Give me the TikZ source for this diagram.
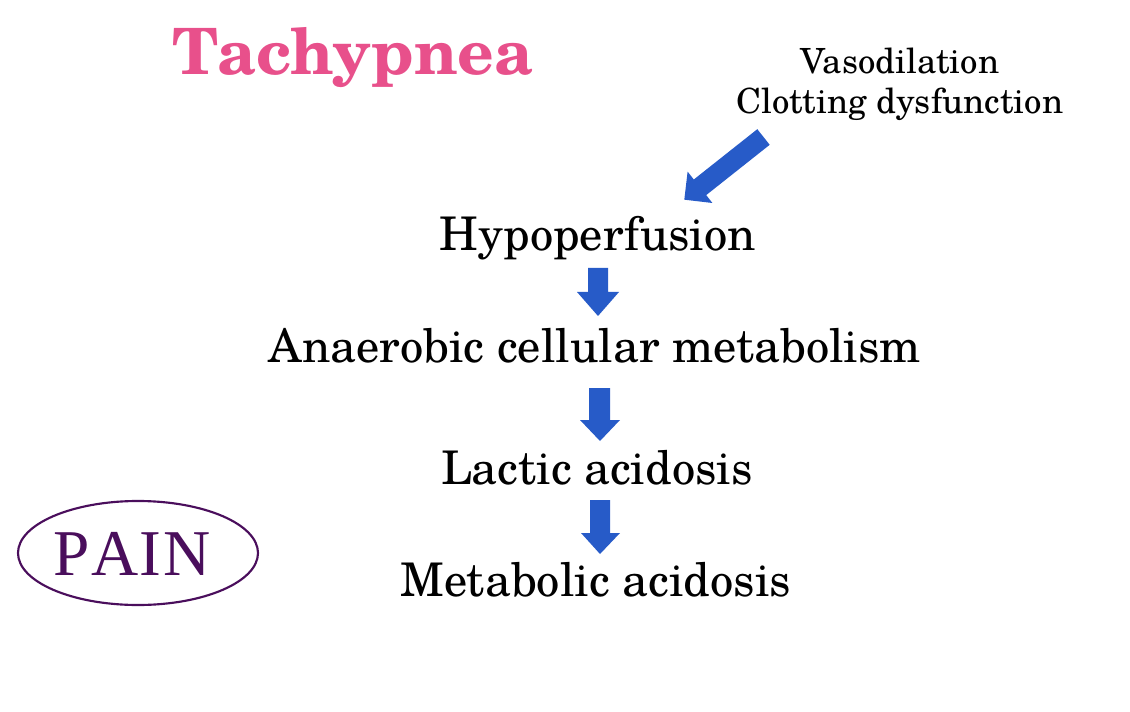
\documentclass[tikz,border=0pt]{standalone}
\usepackage{fontspec}
\usetikzlibrary{shapes.geometric}
\setmainfont{TeX Gyre Schola}
\newfontfamily\painfont{Liberation Serif}
\definecolor{arrowblue}{HTML}{275BC8}
\definecolor{titlepink}{HTML}{E8508B}
\definecolor{painpurple}{HTML}{4A0E5C}
\begin{document}
\begin{tikzpicture}[x=0.75pt,y=-0.75pt,
  step label/.style={font=\fontsize{34.8}{40}\selectfont, text=black, inner sep=0pt, anchor=center},
  small label/.style={font=\fontsize{26}{30}\selectfont, text=black, inner sep=0pt, align=center},
  blockarrow/.style={fill=arrowblue, draw=none}]
\useasboundingbox (0,0) rectangle (1130,712);
\node[font=\bfseries\fontsize{47.9}{52}\selectfont, text=titlepink, inner sep=0pt] (title) at (353,58) {Tachypnea};
\node[small label] (cause) at (900,84) {Vasodilation\\Clotting dysfunction};
\node[step label] (hypo) at (598,238) {Hypoperfusion};
\node[step label] (anaer) at (595,346) {Anaerobic cellular metabolism};
\node[step label] (lactic) at (597,468) {Lactic acidosis};
\node[step label] (metab) at (596,580) {Metabolic acidosis};
\node[ellipse, draw=painpurple, line width=1.6pt, minimum width=180pt, minimum height=78pt, inner sep=0pt] (painring) at (138,553) {};
\node[font=\painfont\fontsize{49}{52}\selectfont, text=painpurple, inner sep=0pt] (pain) at (132,554) {P\kern1pt A\kern1pt I\kern1pt N};
% diagonal block arrow
\fill[blockarrow] (757.3,129.2) -- (769.7,144.8) -- (706.2,195.1) -- (712.4,203) -- (684.3,199.7) -- (687.6,171.6) -- (693.8,179.5) -- cycle;
% vertical block arrows
\fill[blockarrow] (588,268) -- (608,268) -- (608,292) -- (619,292) -- (598,316) -- (577,292) -- (588,292) -- cycle;
\fill[blockarrow] (589,388) -- (610,388) -- (610,420) -- (620,420) -- (600,441) -- (580,420) -- (589,420) -- cycle;
\fill[blockarrow] (590,500) -- (610,500) -- (610,533) -- (620,533) -- (600,554) -- (581,533) -- (590,533) -- cycle;
\end{tikzpicture}
\end{document}
